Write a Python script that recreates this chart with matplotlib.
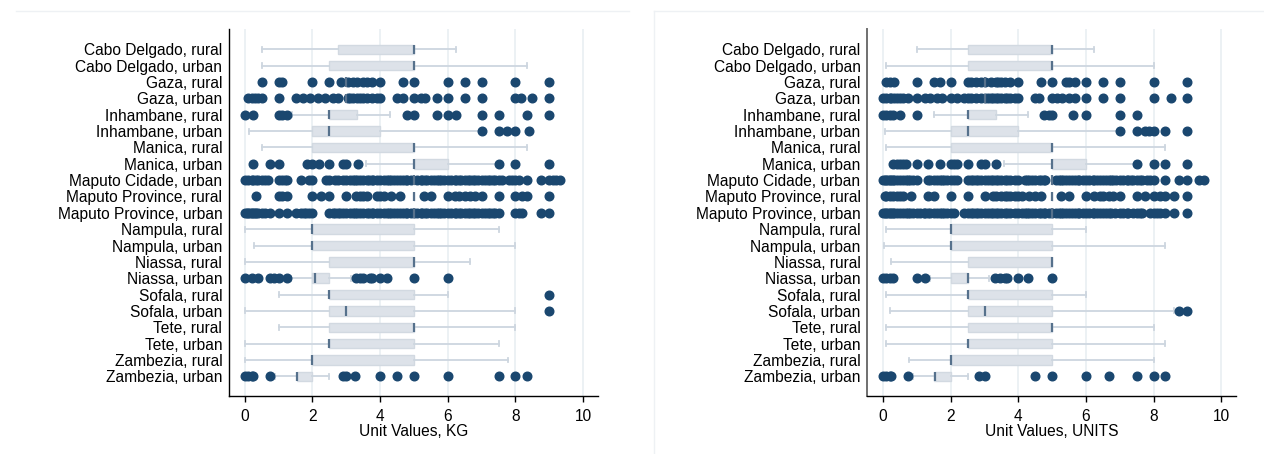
import matplotlib
matplotlib.use("Agg")
import matplotlib.pyplot as plt
from matplotlib.lines import Line2D

plt.rcParams["font.family"] = ["Liberation Sans", "DejaVu Sans"]

categories = [
    "Cabo Delgado, rural", "Cabo Delgado, urban", "Gaza, rural", "Gaza, urban",
    "Inhambane, rural", "Inhambane, urban", "Manica, rural", "Manica, urban",
    "Maputo Cidade, urban", "Maputo Province, rural", "Maputo Province, urban",
    "Nampula, rural", "Nampula, urban", "Niassa, rural", "Niassa, urban",
    "Sofala, rural", "Sofala, urban", "Tete, rural", "Tete, urban",
    "Zambezia, rural", "Zambezia, urban",
]

# ---------------- Unit values per KG ----------------
kg_lo  = [0.5, 0.5, 3.0, 3.0, 1.4, 0.12, 0.5, 3.58, 5.0, 5.0, 5.0,
          0.0, 0.27, 0.0, 1.35, 1.0, 0.0, 1.0, 0.0, 0.0, 0.9]
kg_q1  = [2.75, 2.5, 3.0, 3.0, 2.5, 2.0, 2.0, 5.0, 5.0, 5.0, 5.0,
          2.0, 2.0, 2.5, 2.0, 2.5, 2.5, 2.5, 2.5, 2.0, 1.53]
kg_med = [5.0, 5.0, 3.0, 3.0, 2.5, 2.5, 5.0, 5.0, 5.0, 5.0, 5.0,
          2.0, 2.0, 5.0, 2.08, 2.5, 3.0, 5.0, 2.5, 2.0, 1.55]
kg_q3  = [5.0, 5.0, 3.0, 3.0, 3.33, 4.0, 5.0, 6.0, 5.0, 5.0, 5.0,
          5.0, 5.0, 5.0, 2.5, 5.0, 5.0, 5.0, 5.0, 5.0, 2.0]
kg_hi  = [6.25, 8.33, 3.0, 3.0, 4.29, 6.95, 8.33, 7.5, 5.0, 5.0, 5.0,
          7.5, 8.0, 6.67, 3.15, 6.0, 8.0, 8.0, 7.5, 7.78, 2.5]
kg_out = [
    [],
    [],
    [0.5, 1.0, 1.1, 2.0, 2.5, 2.85, 3.05, 3.2, 3.33, 3.5, 3.6, 3.75, 4.0,
     4.67, 5.0, 6.0, 6.5, 7.0, 8.0, 9.0],
    [0.1, 0.2, 0.3, 0.4, 0.5, 1.0, 1.5, 1.71, 1.94, 2.16, 2.37, 2.6, 2.75,
     3.05, 3.1, 3.2, 3.33, 3.4, 3.5, 3.6, 3.75, 3.9, 4.0, 4.5, 4.67, 5.0,
     5.2, 5.33, 5.67, 6.0, 6.5, 7.0, 8.0, 8.15, 8.5, 9.0],
    [0.0, 0.25, 1.0, 1.1, 1.25, 4.8, 5.0, 5.67, 6.0, 6.25, 7.0, 7.5, 8.33, 9.0],
    [7.0, 7.5, 7.75, 8.0, 8.4],
    [],
    [0.25, 0.75, 1.0, 1.85, 2.0, 2.2, 2.5, 2.9, 3.0, 3.35, 7.5, 8.0, 9.0],
    [0.0, 0.1, 0.2, 0.25, 0.33, 0.4, 0.5, 0.6, 0.67, 1.0, 1.1, 1.2, 1.25,
     1.67, 1.9, 2.0, 2.4, 2.5, 2.67, 2.75, 2.9, 3.0, 3.1, 3.2, 3.25, 3.33,
     3.4, 3.5, 3.6, 3.67, 3.75, 3.8, 3.9, 4.0, 4.1, 4.2, 4.25, 4.33, 4.4,
     4.5, 4.6, 4.67, 4.75, 4.8, 4.9, 5.1, 5.2, 5.25, 5.33, 5.4, 5.5, 5.6,
     5.67, 5.75, 5.8, 5.9, 6.0, 6.1, 6.2, 6.25, 6.33, 6.4, 6.5, 6.6, 6.67,
     6.75, 6.8, 6.9, 7.0, 7.1, 7.2, 7.25, 7.33, 7.4, 7.5, 7.6, 7.8, 7.9,
     8.0, 8.1, 8.33, 8.75, 9.0, 9.1, 9.2, 9.33],
    [0.33, 1.0, 1.1, 1.25, 2.0, 2.25, 2.5, 3.0, 3.3, 3.4, 3.5, 3.6, 3.9,
     4.0, 4.1, 4.33, 4.6, 5.3, 5.5, 6.0, 6.2, 6.33, 6.5, 6.67, 6.8, 7.0,
     7.5, 8.0, 8.2, 8.33, 9.0],
    [0.0, 0.05, 0.1, 0.15, 0.2, 0.25, 0.3, 0.33, 0.4, 0.5, 0.6, 0.75, 1.0,
     1.25, 1.5, 1.67, 1.75, 1.8, 1.9, 2.0, 2.5, 2.6, 2.67, 2.75, 2.8, 2.9,
     3.0, 3.1, 3.2, 3.25, 3.33, 3.4, 3.5, 3.6, 3.67, 3.75, 3.8, 3.9, 4.0,
     4.1, 4.2, 4.25, 4.33, 4.4, 4.5, 4.6, 4.67, 4.75, 4.8, 4.9, 5.0, 5.1,
     5.2, 5.25, 5.33, 5.4, 5.5, 5.6, 5.67, 5.75, 5.8, 5.9, 6.0, 6.1, 6.2,
     6.25, 6.33, 6.4, 6.5, 6.6, 6.67, 6.75, 6.8, 6.9, 7.0, 7.1, 7.2, 7.25,
     7.33, 7.4, 7.5, 8.0, 8.1, 8.2, 8.75, 9.0],
    [],
    [],
    [],
    [0.0, 0.2, 0.4, 0.75, 0.85, 1.0, 1.25, 3.3, 3.4, 3.5, 3.7, 3.75, 4.0,
     4.2, 5.0, 6.0],
    [9.0],
    [9.0],
    [],
    [],
    [],
    [0.0, 0.1, 0.2, 0.25, 0.75, 2.9, 3.0, 3.25, 4.0, 4.5, 5.0, 6.0, 7.5,
     8.0, 8.33],
]

# ---------------- Unit values per UNIT ----------------
un_lo  = [1.0, 0.08, 3.0, 3.0, 1.5, 0.05, 0.08, 3.57, 5.0, 5.0, 5.0,
          0.1, 0.03, 0.23, 1.38, 0.1, 0.2, 0.1, 0.1, 0.77, 0.88]
un_q1  = [2.5, 2.5, 3.0, 3.0, 2.5, 2.0, 2.0, 5.0, 5.0, 5.0, 5.0,
          2.0, 2.0, 2.5, 2.0, 2.5, 2.5, 2.5, 2.5, 2.0, 1.5]
un_med = [5.0, 5.0, 3.0, 3.0, 2.5, 2.5, 5.0, 5.0, 5.0, 5.0, 5.0,
          2.0, 2.0, 5.0, 2.5, 2.5, 3.0, 5.0, 2.5, 2.0, 1.55]
un_q3  = [5.0, 5.0, 3.0, 3.0, 3.33, 4.0, 5.0, 6.0, 5.0, 5.0, 5.0,
          5.0, 5.0, 5.0, 2.5, 5.0, 5.0, 5.0, 5.0, 5.0, 2.0]
un_hi  = [6.25, 8.0, 3.0, 3.0, 4.3, 6.95, 8.33, 7.45, 5.0, 5.0, 5.0,
          6.0, 8.33, 5.0, 3.12, 6.0, 8.6, 8.0, 8.33, 8.0, 2.5]
un_out = [
    [],
    [],
    [0.1, 0.2, 0.33, 1.0, 1.5, 1.67, 2.0, 2.5, 2.6, 2.75, 2.9, 3.0, 3.2,
     3.33, 3.4, 3.5, 3.6, 3.75, 4.0, 4.67, 5.0, 5.4, 5.5, 5.67, 6.0, 6.5,
     7.0, 8.0, 9.0],
    [0.0, 0.1, 0.2, 0.25, 0.33, 0.4, 0.5, 0.6, 0.75, 1.0, 1.25, 1.4, 1.6,
     1.75, 2.0, 2.2, 2.4, 2.5, 2.6, 2.75, 2.9, 3.0, 3.1, 3.2, 3.25, 3.33,
     3.4, 3.5, 3.6, 3.67, 3.75, 3.9, 4.0, 4.5, 4.6, 5.0, 5.15, 5.3, 5.5,
     5.67, 6.0, 6.5, 7.0, 8.0, 8.5, 9.0],
    [0.0, 0.1, 0.2, 0.3, 0.5, 1.0, 4.75, 4.9, 5.0, 5.62, 6.0, 7.0, 7.5],
    [7.0, 7.5, 7.75, 7.85, 8.0, 8.33, 9.0],
    [],
    [0.3, 0.4, 0.5, 0.6, 0.67, 1.0, 1.33, 1.67, 2.0, 2.1, 2.2, 2.5, 2.9,
     3.0, 3.33, 7.5, 8.0, 8.33, 9.0],
    [0.0, 0.05, 0.1, 0.15, 0.2, 0.25, 0.3, 0.33, 0.4, 0.5, 0.6, 0.67, 0.75,
     0.8, 0.9, 1.0, 1.33, 1.4, 1.5, 1.6, 1.67, 1.75, 1.8, 1.9, 2.0, 2.1,
     2.2, 2.5, 2.6, 2.67, 2.75, 2.8, 2.9, 3.0, 3.1, 3.2, 3.25, 3.33, 3.4,
     3.5, 3.6, 3.67, 3.75, 3.9, 4.0, 4.2, 4.25, 4.33, 4.4, 4.5, 4.6, 4.67,
     4.75, 4.8, 5.1, 5.2, 5.25, 5.33, 5.4, 5.5, 5.6, 5.67, 5.75, 5.8, 5.9,
     6.0, 6.1, 6.2, 6.25, 6.33, 6.4, 6.5, 6.6, 6.67, 6.75, 6.8, 6.9, 7.0,
     7.1, 7.2, 7.25, 7.33, 7.4, 7.5, 7.6, 7.67, 7.8, 7.9, 8.0, 8.33, 8.75,
     9.0, 9.33, 9.5],
    [0.05, 0.1, 0.2, 0.3, 0.4, 0.5, 0.6, 0.83, 1.33, 1.5, 2.0, 2.5, 3.0,
     3.25, 3.33, 3.5, 3.6, 3.67, 3.75, 3.9, 4.0, 4.1, 4.33, 4.5, 4.67,
     5.25, 5.5, 6.0, 6.25, 6.4, 6.5, 6.67, 6.8, 7.0, 7.5, 7.75, 8.0, 8.2,
     8.33, 8.6, 9.0],
    [0.0, 0.05, 0.1, 0.15, 0.2, 0.25, 0.3, 0.33, 0.4, 0.5, 0.6, 0.67, 0.75,
     0.8, 0.9, 1.0, 1.1, 1.2, 1.25, 1.33, 1.4, 1.5, 1.6, 1.67, 1.75, 1.8,
     1.9, 2.0, 2.1, 2.4, 2.5, 2.6, 2.67, 2.75, 2.8, 2.9, 3.0, 3.1, 3.2,
     3.25, 3.33, 3.4, 3.5, 3.6, 3.67, 3.75, 3.9, 4.0, 4.1, 4.2, 4.25, 4.33,
     4.4, 4.5, 4.6, 4.67, 4.75, 4.8, 4.9, 5.0, 5.1, 5.2, 5.25, 5.33, 5.4,
     5.5, 5.6, 5.67, 5.75, 5.8, 5.9, 6.0, 6.1, 6.2, 6.25, 6.33, 6.4, 6.5,
     6.6, 6.67, 6.75, 6.85, 7.0, 7.1, 7.2, 7.25, 7.4, 7.5, 7.6, 7.67, 7.9,
     8.0, 8.1, 8.2, 8.33, 8.6, 9.0],
    [],
    [],
    [],
    [0.0, 0.1, 0.2, 0.3, 1.0, 1.25, 3.3, 3.45, 3.6, 3.67, 4.0, 4.28, 5.0],
    [],
    [8.75, 9.0],
    [],
    [],
    [],
    [0.0, 0.1, 0.2, 0.25, 0.75, 2.85, 3.0, 4.5, 5.0, 6.0, 6.67, 7.5, 8.0,
     8.33],
]

x_ticks = [0, 2, 4, 6, 8, 10]
x_titles = ["Unit Values, KG", "Unit Values, UNITS"]

DOT = "#1a476f"
BOX_FILL = "#dde2e9"
BOX_EDGE = "#d2d9e1"
WHISK = "#cdd6df"
MED = "#56718c"
GRID = "#e7eef1"

fig = plt.figure(figsize=(12.64, 4.54), dpi=100)
fig.patch.set_facecolor("white")

# faint outer graph-region borders
fig.add_artist(Line2D([16 / 1264, 629 / 1264], [1 - 11 / 454] * 2,
                      color="#eef1f4", lw=1))
fig.add_artist(Line2D([654 / 1264, 1.0], [1 - 11 / 454] * 2,
                      color="#eef1f4", lw=1))
fig.add_artist(Line2D([654 / 1264] * 2, [0.0, 1 - 11 / 454],
                      color="#eef1f4", lw=1))

panels = [
    (0.1814, kg_lo, kg_q1, kg_med, kg_q3, kg_hi, kg_out, "black", 1.0),
    (0.6863, un_lo, un_q1, un_med, un_q3, un_hi, un_out, "#707070", 1.4),
]

positions = list(range(1, len(categories) + 1))

for i, (left, lo, q1, med, q3, hi, out, spine_c, spine_w) in enumerate(panels):
    ax = fig.add_axes([left, 0.1278, 0.2914, 0.8083])
    stats = []
    for j in range(len(categories)):
        stats.append(dict(whislo=lo[j], q1=q1[j], med=med[j], q3=q3[j],
                          whishi=hi[j], fliers=out[j], label=categories[j]))
    ax.bxp(stats, positions=positions, widths=0.58, capwidths=0.3,
           orientation="horizontal", patch_artist=True, showfliers=True,
           boxprops=dict(facecolor=BOX_FILL, edgecolor=BOX_EDGE, linewidth=1),
           whiskerprops=dict(color=WHISK, linewidth=1.3),
           capprops=dict(color=WHISK, linewidth=1.3),
           medianprops=dict(color=MED, linewidth=1.6),
           flierprops=dict(marker="o", markerfacecolor=DOT,
                           markeredgecolor=DOT, markersize=6.2,
                           linestyle="none"))
    ax.set_xlim(-0.46, 10.43)
    ax.set_ylim(22.2, -0.24)
    ax.set_xticks(x_ticks)
    ax.set_xticklabels([str(t) for t in x_ticks])
    ax.set_yticks(positions)
    ax.set_yticklabels(categories)
    ax.xaxis.grid(True, color=GRID, linewidth=1.1)
    ax.yaxis.grid(False)
    ax.set_axisbelow(True)
    for s in ("top", "right"):
        ax.spines[s].set_visible(False)
    ax.spines["left"].set_color(spine_c)
    ax.spines["left"].set_linewidth(spine_w)
    ax.spines["bottom"].set_color("black")
    ax.spines["bottom"].set_linewidth(1.0)
    ax.tick_params(axis="y", length=0, pad=5, labelsize=11.2)
    ax.tick_params(axis="x", length=4, width=1, pad=5.5, labelsize=11.2)
    ax.set_xlabel(x_titles[i], fontsize=11.2, labelpad=0)

fig.savefig("out.png", dpi=100, facecolor="white")
